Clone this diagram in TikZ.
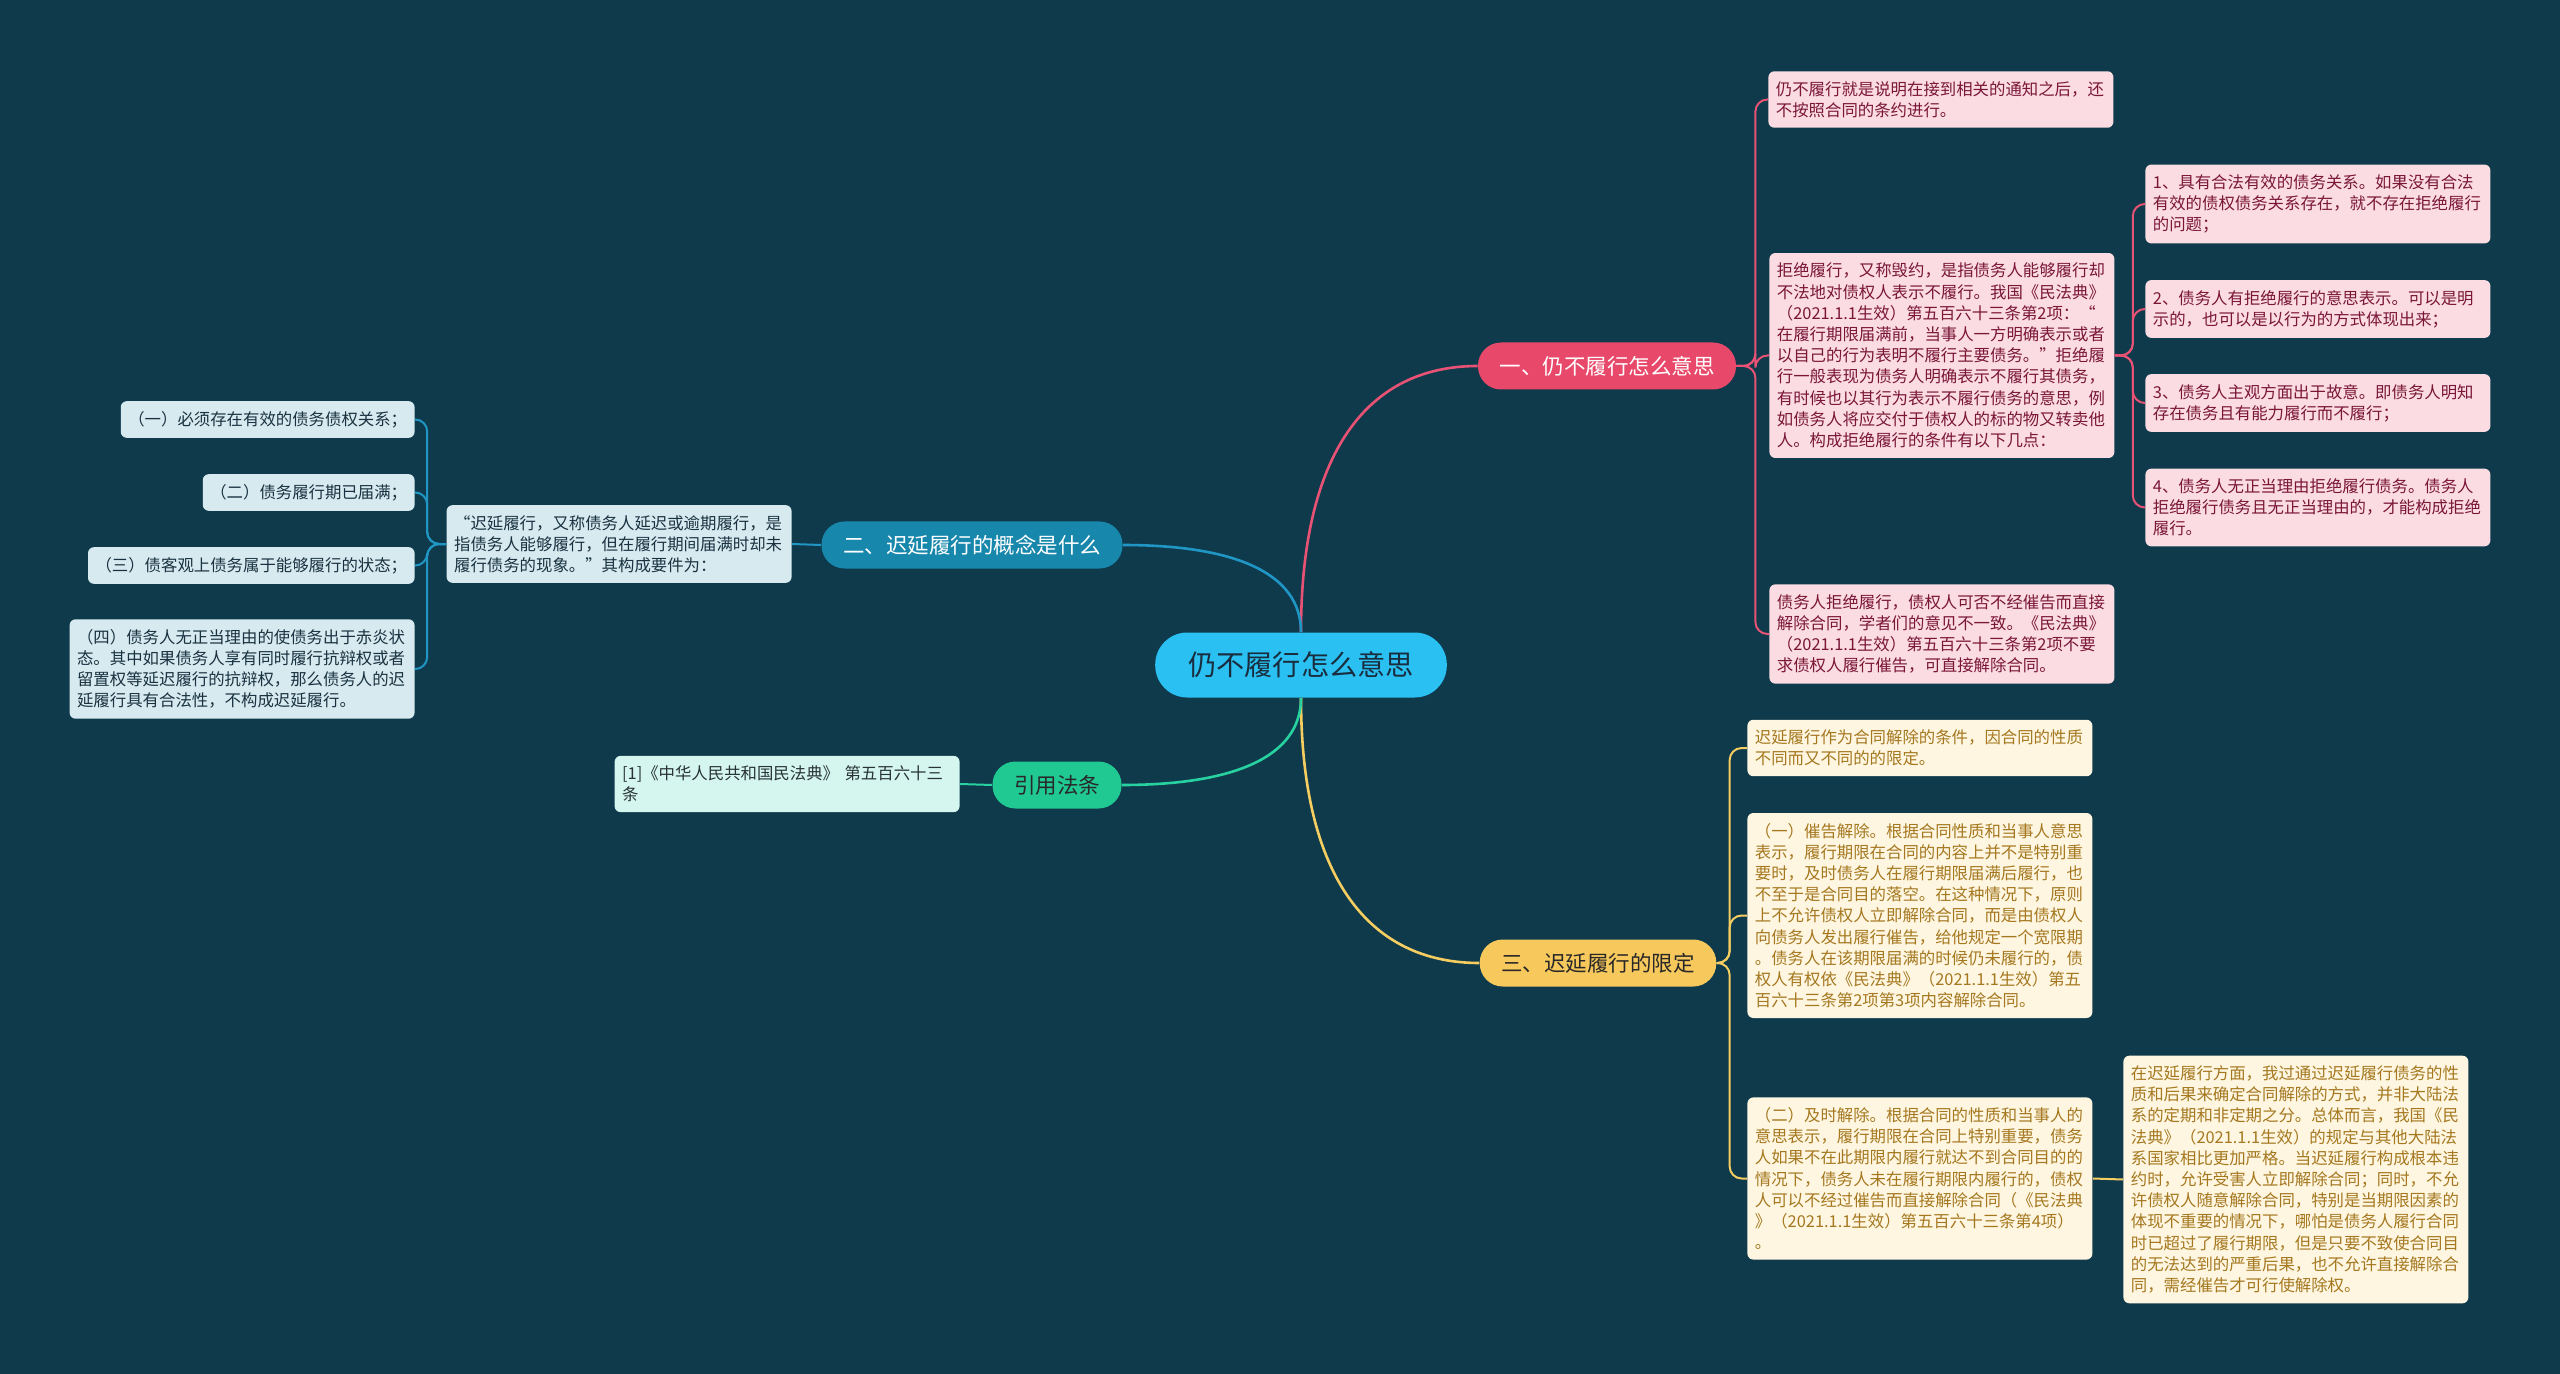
\documentclass[tikz,border=0pt]{standalone}
\usepackage{fontspec}
\setmainfont{Noto Sans CJK SC}
\usetikzlibrary{positioning}
\usetikzlibrary{calc}
\definecolor{bgcol}{RGB}{14,58,76}
\definecolor{rootfill}{RGB}{42,192,242}
\definecolor{roottext}{RGB}{25,45,62}
\definecolor{pinktopic}{RGB}{232,72,106}
\definecolor{pinkline}{RGB}{232,82,116}
\definecolor{pinkfill}{RGB}{251,220,226}
\definecolor{pinktext}{RGB}{122,22,56}
\definecolor{bluetopic}{RGB}{24,135,172}
\definecolor{blueline}{RGB}{32,150,196}
\definecolor{bluefill}{RGB}{214,234,240}
\definecolor{bluetext}{RGB}{26,50,64}
\definecolor{yellowtopic}{RGB}{247,200,92}
\definecolor{yellowline}{RGB}{245,205,96}
\definecolor{yellowfill}{RGB}{254,246,224}
\definecolor{yellowtext}{RGB}{165,120,32}
\definecolor{greentopic}{RGB}{32,200,146}
\definecolor{greenline}{RGB}{40,210,160}
\definecolor{greenfill}{RGB}{212,246,238}
\definecolor{greentext}{RGB}{40,50,55}
\definecolor{darktext}{RGB}{40,40,40}

\begin{document}
\begin{tikzpicture}[x=0.5pt,y=-0.5pt,
  rootbox/.style={fill=rootfill,text=roottext,rounded corners=16pt,minimum height=32.5pt,inner xsep=16.5pt,font=\fontsize{14.1}{16}\selectfont},
  topic/.style={rounded corners=11.5pt,minimum height=23.5pt,inner xsep=10.75pt,font=\fontsize{10.75}{12}\selectfont},
  leaf/.style={rounded corners=3pt,inner xsep=3.75pt,inner ysep=5pt,font=\fontsize{8.2}{10.6}\selectfont},
  wide/.style={leaf,text width=165pt,align=left},
  pinkleaf/.style={wide,fill=pinkfill,text=pinktext,anchor=west},
  yellowleaf/.style={wide,fill=yellowfill,text=yellowtext,anchor=west},
  link/.style={line width=1.3pt},
  spine/.style={line width=1pt,rounded corners=6pt}]
  \fill[bgcol] (0,0) rectangle (2560,1374);
  \node[rootbox] (root) at (1301,665) {仍不履行怎么意思};
  \node[topic,fill=pinktopic,text=white] (refuse) at (1607,366) {一、仍不履行怎么意思};
  \node[topic,fill=bluetopic,text=white] (concept) at (972,545) {二、迟延履行的概念是什么};
  \node[topic,fill=yellowtopic,text=darktext] (limit) at (1598,963) {三、迟延履行的限定};
  \node[topic,fill=greentopic,text=darktext] (cite) at (1057,785) {引用法条};

  \node[pinkleaf] (refmean) at (1768,99.5) {仍不履行就是说明在接到相关的通知之后，还\\不按照合同的条约进行。};
  \node[pinkleaf] (refdef) at (1769,355.5) {拒绝履行，又称毁约，是指债务人能够履行却\\不法地对债权人表示不履行。我国《民法典》\\（2021.1.1生效）第五百六十三条第2项：“\\在履行期限届满前，当事人一方明确表示或者\\以自己的行为表明不履行主要债务。”拒绝履\\行一般表现为债务人明确表示不履行其债务，\\有时候也以其行为表示不履行债务的意思，例\\如债务人将应交付于债权人的标的物又转卖他\\人。构成拒绝履行的条件有以下几点：};
  \node[pinkleaf] (refend) at (1769,634) {债务人拒绝履行，债权人可否不经催告而直接\\解除合同，学者们的意见不一致。《民法典》\\（2021.1.1生效）第五百六十三条第2项不要\\求债权人履行催告，可直接解除合同。};
  \node[pinkleaf] (condone) at (2145,204) {1、具有合法有效的债务关系。如果没有合法\\有效的债权债务关系存在，就不存在拒绝履行\\的问题；};
  \node[pinkleaf] (condtwo) at (2145,309) {2、债务人有拒绝履行的意思表示。可以是明\\示的，也可以是以行为的方式体现出来；};
  \node[pinkleaf] (condthree) at (2145,403) {3、债务人主观方面出于故意。即债务人明知\\存在债务且有能力履行而不履行；};
  \node[pinkleaf] (condfour) at (2145,507.5) {4、债务人无正当理由拒绝履行债务。债务人\\拒绝履行债务且无正当理由的，才能构成拒绝\\履行。};

  \node[wide,fill=bluefill,text=bluetext,anchor=east] (delaydef) at (792,544) {“迟延履行，又称债务人延迟或逾期履行，是\\指债务人能够履行，但在履行期间届满时却未\\履行债务的现象。”其构成要件为：};
  \node[leaf,fill=bluefill,text=bluetext,anchor=east] (reqone) at (415,419.5) {（一）必须存在有效的债务债权关系；};
  \node[leaf,fill=bluefill,text=bluetext,anchor=east] (reqtwo) at (415,492.5) {（二）债务履行期已届满；};
  \node[leaf,fill=bluefill,text=bluetext,anchor=east] (reqthree) at (415,565.5) {（三）债客观上债务属于能够履行的状态；};
  \node[wide,fill=bluefill,text=bluetext,anchor=east] (reqfour) at (415,669) {（四）债务人无正当理由的使债务出于赤炎状\\态。其中如果债务人享有同时履行抗辩权或者\\留置权等延迟履行的抗辩权，那么债务人的迟\\延履行具有合法性，不构成迟延履行。};

  \node[wide,fill=greenfill,text=greentext,anchor=east] (law) at (960,784) {[1]《中华人民共和国民法典》 第五百六十三\\条};

  \node[yellowleaf] (limitnote) at (1747,748) {迟延履行作为合同解除的条件，因合同的性质\\不同而又不同的的限定。};
  \node[yellowleaf] (notice) at (1747,915.5) {（一）催告解除。根据合同性质和当事人意思\\表示，履行期限在合同的内容上并不是特别重\\要时，及时债务人在履行期限届满后履行，也\\不至于是合同目的落空。在这种情况下，原则\\上不允许债权人立即解除合同，而是由债权人\\向债务人发出履行催告，给他规定一个宽限期\\。债务人在该期限届满的时候仍未履行的，债\\权人有权依《民法典》（2021.1.1生效）第五\\百六十三条第2项第3项内容解除合同。};
  \node[yellowleaf] (prompt) at (1747,1178.5) {（二）及时解除。根据合同的性质和当事人的\\意思表示，履行期限在合同上特别重要，债务\\人如果不在此期限内履行就达不到合同目的的\\情况下，债务人未在履行期限内履行的，债权\\人可以不经过催告而直接解除合同（《民法典\\》（2021.1.1生效）第五百六十三条第4项）\\。};
  \node[yellowleaf] (compare) at (2123,1179.5) {在迟延履行方面，我过通过迟延履行债务的性\\质和后果来确定合同解除的方式，并非大陆法\\系的定期和非定期之分。总体而言，我国《民\\法典》（2021.1.1生效）的规定与其他大陆法\\系国家相比更加严格。当迟延履行构成根本违\\约时，允许受害人立即解除合同；同时，不允\\许债权人随意解除合同，特别是当期限因素的\\体现不重要的情况下，哪怕是债务人履行合同\\时已超过了履行期限，但是只要不致使合同目\\的无法达到的严重后果，也不允许直接解除合\\同，需经催告才可行使解除权。};

  \draw[link,pinkline] (root.north) .. controls +(0,-180) and +(-110,0) .. (refuse.west);
  \draw[link,blueline] (root.north) .. controls +(0,-60) and +(110,0) .. (concept.east);
  \draw[link,yellowline] (root.south) .. controls +(0,180) and +(-110,0) .. (limit.west);
  \draw[link,greenline] (root.south) .. controls +(0,60) and +(110,0) .. (cite.east);

  \draw[spine,pinkline] (refuse.east) -- ++(19,0) |- (refmean.west);
  \draw[spine,pinkline] (refuse.east) -- ++(19,0) |- (refdef.west);
  \draw[spine,pinkline] (refuse.east) -- ++(19,0) |- (refend.west);
  \draw[spine,pinkline] (refdef.east) -- ++(18,0) |- (condone.west);
  \draw[spine,pinkline] (refdef.east) -- ++(18,0) |- (condtwo.west);
  \draw[spine,pinkline] (refdef.east) -- ++(18,0) |- (condthree.west);
  \draw[spine,pinkline] (refdef.east) -- ++(18,0) |- (condfour.west);

  \draw[spine,blueline] (concept.west) -- (delaydef.east);
  \draw[spine,blueline] (delaydef.west) -- ++(-19,0) |- (reqone.east);
  \draw[spine,blueline] (delaydef.west) -- ++(-19,0) |- (reqtwo.east);
  \draw[spine,blueline] (delaydef.west) -- ++(-19,0) |- (reqthree.east);
  \draw[spine,blueline] (delaydef.west) -- ++(-19,0) |- (reqfour.east);

  \draw[spine,greenline] (cite.west) -- (law.east);

  \draw[spine,yellowline] (limit.east) -- ++(13,0) |- (limitnote.west);
  \draw[spine,yellowline] (limit.east) -- ++(13,0) |- (notice.west);
  \draw[spine,yellowline] (limit.east) -- ++(13,0) |- (prompt.west);
  \draw[spine,yellowline] (prompt.east) -- (compare.west);
\end{tikzpicture}
\end{document}
